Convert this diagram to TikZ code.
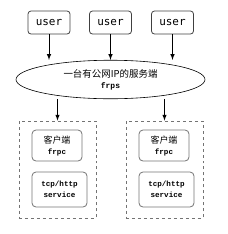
\documentclass[tikz,border=0pt]{standalone}
\usepackage{fontspec}
\setmonofont{DejaVu Sans Mono}
\newfontfamily\cjk{Noto Sans CJK SC}
\newfontfamily\latinmono{Liberation Mono}
\usetikzlibrary{arrows, shapes.geometric}

\tikzset{
	userbox/.style={draw=black!75, rounded corners=3bp, line width=0.8bp, minimum width=42bp, minimum height=23bp, font=\ttfamily\fontsize{11}{13}\selectfont},
	server/.style={draw, ellipse, line width=0.6bp, minimum width=189bp, minimum height=35bp, align=center},
	hostbox/.style={draw=black!55, dashed, line width=0.8bp, minimum width=77bp, minimum height=97bp},
	innerbox/.style={draw=black!55, rounded corners=4bp, line width=0.8bp, align=center},
	arr/.style={->, >=latex, line width=1bp}
}

\begin{document}
\begin{tikzpicture}[x=1bp, y=-1bp]
	\useasboundingbox (0,0) rectangle (228,234);
	% users
	\node[userbox] (u1) at (49,22.5) {user};
	\node[userbox] (u2) at (110.5,22.5) {user};
	\node[userbox] (u3) at (172.5,22.5) {user};
	% server
	\node[server] (srv) at (110.5,79.5) {\cjk\fontsize{9.5}{13}\selectfont 一台有公网IP的服务端\\[-1bp] {\latinmono\bfseries\fontsize{8}{10}\selectfont frps}};
	% client hosts
	\node[hostbox] (h1) at (57.5,169.5) {};
	\node[hostbox] (h2) at (164.5,169.5) {};
	\node[innerbox, minimum width=50bp, minimum height=31bp] (c1) at (57,145.5) {\cjk\fontsize{9}{11}\selectfont 客户端\\[-1bp] {\latinmono\bfseries\fontsize{7.6}{10}\selectfont frpc}};
	\node[innerbox, minimum width=55bp, minimum height=35bp, font=\latinmono\bfseries\fontsize{7.6}{11}\selectfont] (s1) at (59.5,189.5) {tcp/http\\service};
	\node[innerbox, minimum width=50bp, minimum height=31bp] (c2) at (164,145.5) {\cjk\fontsize{9}{11}\selectfont 客户端\\[-1bp] {\latinmono\bfseries\fontsize{7.6}{10}\selectfont frpc}};
	\node[innerbox, minimum width=55bp, minimum height=35bp, font=\latinmono\bfseries\fontsize{7.6}{11}\selectfont] (s2) at (166.5,189.5) {tcp/http\\service};
	% arrows
	\draw[arr] (u1.south) -- (u1.south |- srv.north);
	\draw[arr] (u2.south) -- (u2.south |- srv.north);
	\draw[arr] (u3.south) -- (u3.south |- srv.north);
	\draw[arr] (h1.north |- srv.south) -- (h1.north);
	\draw[arr] (h2.north |- srv.south) -- (h2.north);
\end{tikzpicture}
\end{document}
